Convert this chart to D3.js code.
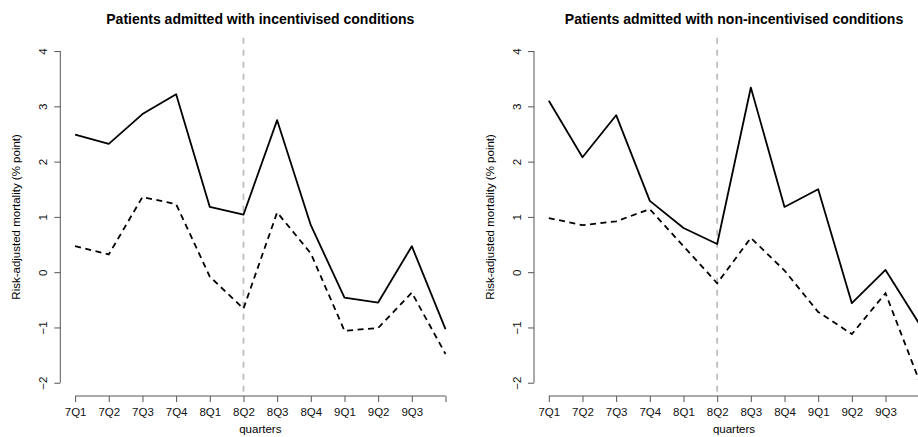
<!DOCTYPE html>
<html>
<head>
<meta charset="utf-8">
<script src="https://cdn.jsdelivr.net/npm/d3@7"></script>
<style>
  body { margin: 0; background: #fff; }
  text { font-family: "Liberation Sans", Arial, sans-serif; }
</style>
</head>
<body>
<script>
var width = 918;
var height = 437;

// data
var quarters = ["7Q1","7Q2","7Q3","7Q4","8Q1","8Q2","8Q3","8Q4","9Q1","9Q2","9Q3",""];
var yTicks = [-2, -1, 0, 1, 2, 3, 4];
var incentSolid  = [2.49, 2.32, 2.86, 3.22, 1.18, 1.04, 2.75, 0.85, -0.46, -0.55, 0.47, -1.03];
var incentDashed = [0.47, 0.32, 1.36, 1.23, -0.08, -0.66, 1.08, 0.34, -1.06, -1.01, -0.37, -1.48];
var nonSolid     = [3.10, 2.08, 2.84, 1.29, 0.80, 0.51, 3.34, 1.18, 1.50, -0.56, 0.04, -0.93];
var nonDashed    = [0.98, 0.85, 0.92, 1.14, 0.47, -0.20, 0.62, 0.03, -0.72, -1.12, -0.38, -1.96];
var breakQuarter = "8Q2";

var titles = ["Patients admitted with incentivised conditions",
              "Patients admitted with non-incentivised conditions"];

var svg = d3.select("body").append("svg")
    .attr("width", width)
    .attr("height", height);

//plot region of the first panel, second is shifted right
var plotW = 400, plotTop = 37.8, plotBottom = 396;
var panelOffset = [60.3, 534];
var tickFont = "11.5px";

var n = quarters.length;
var pad = (n - 1) * 0.04;
var y = d3.scaleLinear().domain([-2 - 0.24, 4 + 0.24]).range([plotBottom, plotTop]);

function drawPanel(left, title, solid, dashed){
    var x = d3.scaleLinear().domain([1 - pad, n + pad]).range([left, left + plotW]);
    var idx = d3.range(1, n + 1);
    var g = svg.append("g");

    //vertical marker at the break quarter
    var bx = x(quarters.indexOf(breakQuarter) + 1);
    g.append("line")
        .attr("x1", bx).attr("x2", bx)
        .attr("y1", plotTop).attr("y2", plotBottom)
        .attr("stroke", "#bdbdbd")
        .attr("stroke-width", 1.8)
        .attr("stroke-dasharray", "6,6");

    //x axis
    var xAxis = d3.axisBottom(x)
        .tickValues(idx)
        .tickFormat(function(d){ return quarters[d - 1]; })
        .tickSize(6).tickPadding(6);
    var gx = g.append("g")
        .attr("transform", "translate(0," + plotBottom + ")")
        .call(xAxis);
    gx.select(".domain").remove();
    gx.append("line")
        .attr("x1", x(1)).attr("x2", x(n))
        .attr("stroke", "#555");
    gx.selectAll(".tick line").attr("stroke", "#555");
    gx.selectAll(".tick text")
        .attr("fill", "#111")
        .style("font-size", tickFont)
        .style("font-family", "Liberation Sans, Arial, sans-serif");

    //y axis, labels parallel to the axis
    var yAxis = d3.axisLeft(y).tickValues(yTicks).tickFormat(d3.format("d")).tickSize(6);
    var gy = g.append("g")
        .attr("transform", "translate(" + left + ",0)")
        .call(yAxis);
    gy.select(".domain").remove();
    gy.append("line")
        .attr("y1", y(yTicks[0])).attr("y2", y(yTicks[yTicks.length - 1]))
        .attr("stroke", "#555");
    gy.selectAll(".tick line").attr("stroke", "#555");
    gy.selectAll(".tick text")
        .attr("x", null).attr("dy", null)
        .attr("text-anchor", "middle")
        .attr("transform", "translate(-13,0) rotate(-90)")
        .attr("fill", "#111")
        .style("font-size", tickFont)
        .style("font-family", "Liberation Sans, Arial, sans-serif");

    var line = d3.line()
        .x(function(d, i){ return x(i + 1); })
        .y(function(d){ return y(d); });

    g.append("path")
        .datum(solid)
        .attr("d", line)
        .attr("fill", "none")
        .attr("stroke", "#000")
        .attr("stroke-width", 1.8)
        .attr("stroke-linejoin", "round");

    g.append("path")
        .datum(dashed)
        .attr("d", line)
        .attr("fill", "none")
        .attr("stroke", "#000")
        .attr("stroke-width", 1.8)
        .attr("stroke-dasharray", "6,4.5");

    var cx = left + plotW / 2;
    g.append("text")
        .attr("x", cx).attr("y", 24)
        .attr("text-anchor", "middle")
        .style("font-size", "14px")
        .style("font-weight", "bold")
        .text(title);

    g.append("text")
        .attr("x", cx).attr("y", 433)
        .attr("text-anchor", "middle")
        .style("font-size", tickFont)
        .text("quarters");

    g.append("text")
        .attr("transform", "translate(" + (left - 40.3) + "," + ((plotTop + plotBottom) / 2) + ") rotate(-90)")
        .attr("text-anchor", "middle")
        .style("font-size", tickFont)
        .text("Risk-adjusted mortality (% point)");
}

drawPanel(panelOffset[0], titles[0], incentSolid, incentDashed);
drawPanel(panelOffset[1], titles[1], nonSolid, nonDashed);
</script>
</body>
</html>
